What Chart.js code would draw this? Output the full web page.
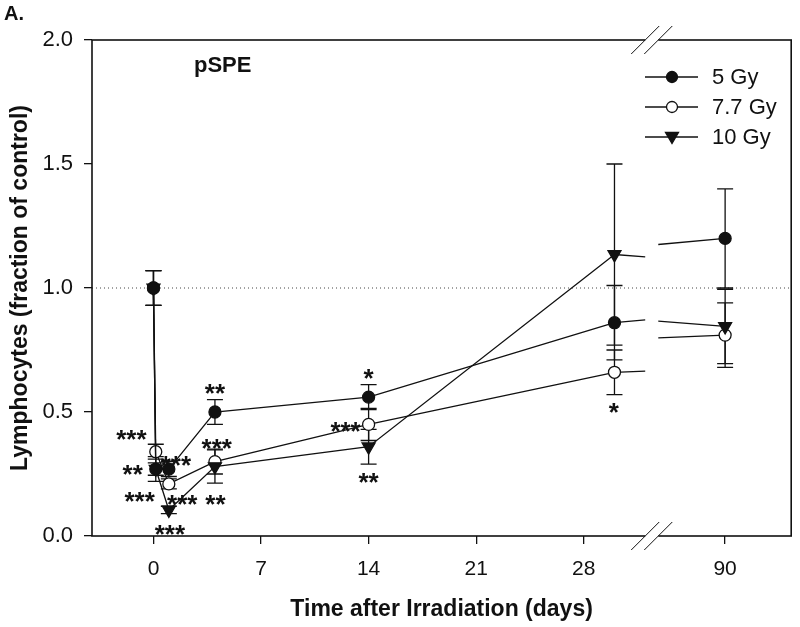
<!DOCTYPE html>
<html>
<head>
<title>pSPE lymphocytes</title>
<script src="https://cdn.jsdelivr.net/npm/chart.js"></script>
<style>
  body { margin: 0; background: #fff; }
</style>
</head>
<body>
<canvas id="chart" width="800" height="627"></canvas>
<script>
// time points (days after irradiation)
const days = [0, 0.15, 1, 4, 14, 30, 90];

const gy5    = [1.00, 0.27, 0.27, 0.50, 0.56, 0.86, 1.20];
const gy5Err = [0.07, 0.05, 0.03, 0.05, 0.05, 0.15, 0.20];

const gy77    = [1.00, 0.34, 0.21, 0.30, 0.45, 0.66, 0.81];
const gy77Err = [0.07, 0.03, 0.02, 0.05, 0.065, 0.09, 0.13];

const gy10    = [1.00, 0.27, 0.105, 0.28, 0.36, 1.135, 0.845];
const gy10Err = [0.07, 0.025, 0.015, 0.067, 0.07, 0.365, 0.15];

const xTickDays = [0, 7, 14, 21, 28, 90];
const yTicks = [0, 0.5, 1.0, 1.5, 2.0];
const refLine = 1.0;

// significance marks: [day, value, text]
const stars = [
  [-1.44, 0.417, '***'], [-1.35, 0.275, '**'], [-0.9, 0.166, '***'],
  [1.46, 0.311, '***'], [1.87, 0.154, '***'], [1.07, 0.032, '***'],
  [4.0, 0.602, '**'], [4.12, 0.381, '***'], [4.03, 0.154, '**'],
  [14.0, 0.663, '*'], [12.5, 0.448, '***'], [14.0, 0.243, '**'],
  [29.95, 0.525, '*']
];

// broken axis: left part 0..32 days, right part around 90 days
const BREAK_L = 32.0;    // last day shown left of break
const BREAK_R = 85.65;   // first day shown right of break
const POS90 = 37.2;      // axis position of day 90
function toPos(d) { return d <= BREAK_L ? d : POS90 + (d - 90); }

const INK = '#111';
const FONT = "'Liberation Sans', Arial, sans-serif";
Chart.defaults.font.family = FONT;
Chart.defaults.color = INK;

function series(label, vals, errs, style, fill, order) {
  return {
    label: label,
    data: days.map((d, i) => ({ x: toPos(d), y: vals[i] })),
    errs: errs,
    vals: vals,
    borderColor: INK,
    borderWidth: 1.3,
    pointStyle: style,
    pointRotation: style === 'triangle' ? 180 : 0,
    pointRadius: style === 'triangle' ? 7.5 : 6,
    pointBackgroundColor: fill,
    pointBorderColor: INK,
    pointBorderWidth: 1.3,
    order: order,
    segment: {
      borderColor: ctx => ctx.p1DataIndex === days.length - 1 ? 'rgba(0,0,0,0)' : INK
    }
  };
}

const extras = {
  id: 'extras',
  beforeDatasetsDraw(chart) {
    const c = chart.ctx, a = chart.chartArea;
    const xs = chart.scales.x, ys = chart.scales.y;
    c.save();
    // dotted reference line
    c.strokeStyle = '#444';
    c.lineWidth = 1;
    c.setLineDash([1, 3]);
    c.beginPath();
    c.moveTo(a.left, ys.getPixelForValue(refLine));
    c.lineTo(a.right, ys.getPixelForValue(refLine));
    c.stroke();
    c.setLineDash([]);
    // error bars
    c.strokeStyle = INK;
    c.lineWidth = 1.3;
    chart.data.datasets.forEach(ds => {
      days.forEach((d, i) => {
        const px = xs.getPixelForValue(toPos(d));
        const hi = ys.getPixelForValue(ds.vals[i] + ds.errs[i]);
        const lo = ys.getPixelForValue(ds.vals[i] - ds.errs[i]);
        c.beginPath();
        c.moveTo(px, hi); c.lineTo(px, lo);
        c.moveTo(px - 8, hi); c.lineTo(px + 8, hi);
        c.moveTo(px - 8, lo); c.lineTo(px + 8, lo);
        c.stroke();
      });
      // line from day 30 to day 90, clipped to both axis segments
      const n = days.length;
      const d0 = days[n - 2], d1 = days[n - 1];
      const v0 = ds.vals[n - 2], v1 = ds.vals[n - 1];
      const at = d => v0 + (v1 - v0) * (d - d0) / (d1 - d0);
      c.beginPath();
      c.moveTo(xs.getPixelForValue(toPos(d0)), ys.getPixelForValue(v0));
      c.lineTo(xs.getPixelForValue(toPos(BREAK_L)), ys.getPixelForValue(at(BREAK_L)));
      c.moveTo(xs.getPixelForValue(toPos(BREAK_R)), ys.getPixelForValue(at(BREAK_R)));
      c.lineTo(xs.getPixelForValue(toPos(d1)), ys.getPixelForValue(v1));
      c.stroke();
    });
    c.restore();
  },
  afterDraw(chart) {
    const c = chart.ctx, a = chart.chartArea;
    const xs = chart.scales.x, ys = chart.scales.y;
    c.save();
    // frame
    c.strokeStyle = INK;
    c.lineWidth = 1.6;
    c.strokeRect(a.left, a.top, a.right - a.left, a.bottom - a.top);
    // axis break
    const b1 = xs.getPixelForValue(toPos(BREAK_L));
    const b2 = xs.getPixelForValue(toPos(BREAK_R));
    c.fillStyle = '#fff';
    c.fillRect(b1, a.top - 2, b2 - b1, 4);
    c.fillRect(b1, a.bottom - 2, b2 - b1, 4);
    c.lineWidth = 1;
    [a.top, a.bottom].forEach(yb => {
      [b1, b2].forEach(xb => {
        c.beginPath();
        c.moveTo(xb - 14, yb + 14);
        c.lineTo(xb + 14, yb - 14);
        c.stroke();
      });
    });
    // significance marks
    c.fillStyle = INK;
    c.font = 'bold 26px ' + FONT;
    c.textAlign = 'center';
    c.textBaseline = 'alphabetic';
    stars.forEach(s => {
      c.fillText(s[2], xs.getPixelForValue(toPos(s[0])), ys.getPixelForValue(s[1]) + 15);
    });
    // legend
    c.textAlign = 'left';
    c.textBaseline = 'middle';
    c.font = '22px ' + FONT;
    chart.data.datasets.forEach((ds, i) => {
      const y = 77 + i * 30;
      c.strokeStyle = INK;
      c.lineWidth = 1.3;
      c.beginPath(); c.moveTo(645, y); c.lineTo(698, y); c.stroke();
      c.fillStyle = ds.pointBackgroundColor;
      c.beginPath();
      if (ds.pointStyle === 'triangle') {
        c.moveTo(672 - 6.5, y - 4.5); c.lineTo(672 + 6.5, y - 4.5); c.lineTo(672, y + 6.5);
        c.closePath();
      } else {
        c.arc(672, y, 5.5, 0, Math.PI * 2);
      }
      c.fill(); c.stroke();
      c.fillStyle = INK;
      c.fillText(ds.label, 712, y + 1);
    });
    // panel labels
    c.font = 'bold 20px ' + FONT;
    c.fillText('A.', 4, 14);
    c.font = 'bold 22px ' + FONT;
    c.fillText('pSPE', 194, 66);
    c.restore();
  }
};

const ctx = document.getElementById('chart').getContext('2d');
const chart = new Chart(ctx, {
  type: 'line',
  data: {
    datasets: [
      series('5 Gy', gy5, gy5Err, 'circle', INK, 0),
      series('7.7 Gy', gy77, gy77Err, 'circle', '#fff', 2),
      series('10 Gy', gy10, gy10Err, 'triangle', INK, 1)
    ]
  },
  options: {
    responsive: false,
    animation: false,
    layout: { padding: { top: 40, right: 2, left: 0, bottom: 0 } },
    plugins: { legend: { display: false }, tooltip: { enabled: false } },
    scales: {
      x: {
        type: 'linear',
        min: -4,
        max: 41.5,
        afterBuildTicks: s => { s.ticks = xTickDays.map(d => ({ value: toPos(d) })); },
        afterFit: s => { s.height = 91; },
        grid: { drawOnChartArea: false, tickLength: 8, color: INK, lineWidth: 1.3 },
        border: { display: false },
        ticks: {
          padding: 13,
          font: { size: 21 },
          color: INK,
          maxRotation: 0,
          callback: (v, i) => String(xTickDays[i])
        },
        title: {
          display: true,
          text: 'Time after Irradiation (days)',
          font: { size: 23, weight: 'bold' },
          color: INK,
          padding: { top: 0, bottom: 4 }
        }
      },
      y: {
        min: 0,
        max: 2,
        afterBuildTicks: s => { s.ticks = yTicks.map(v => ({ value: v })); },
        afterFit: s => { s.width = 92; },
        grid: { drawOnChartArea: false, tickLength: 8, color: INK, lineWidth: 1.3 },
        border: { display: false },
        ticks: {
          padding: 11,
          font: { size: 22 },
          color: INK,
          callback: v => v.toFixed(1)
        },
        title: {
          display: true,
          text: 'Lymphocytes (fraction of control)',
          font: { size: 23, weight: 'bold' },
          color: INK,
          padding: { top: 7, bottom: 0 }
        }
      }
    }
  },
  plugins: [extras]
});
</script>
</body>
</html>
